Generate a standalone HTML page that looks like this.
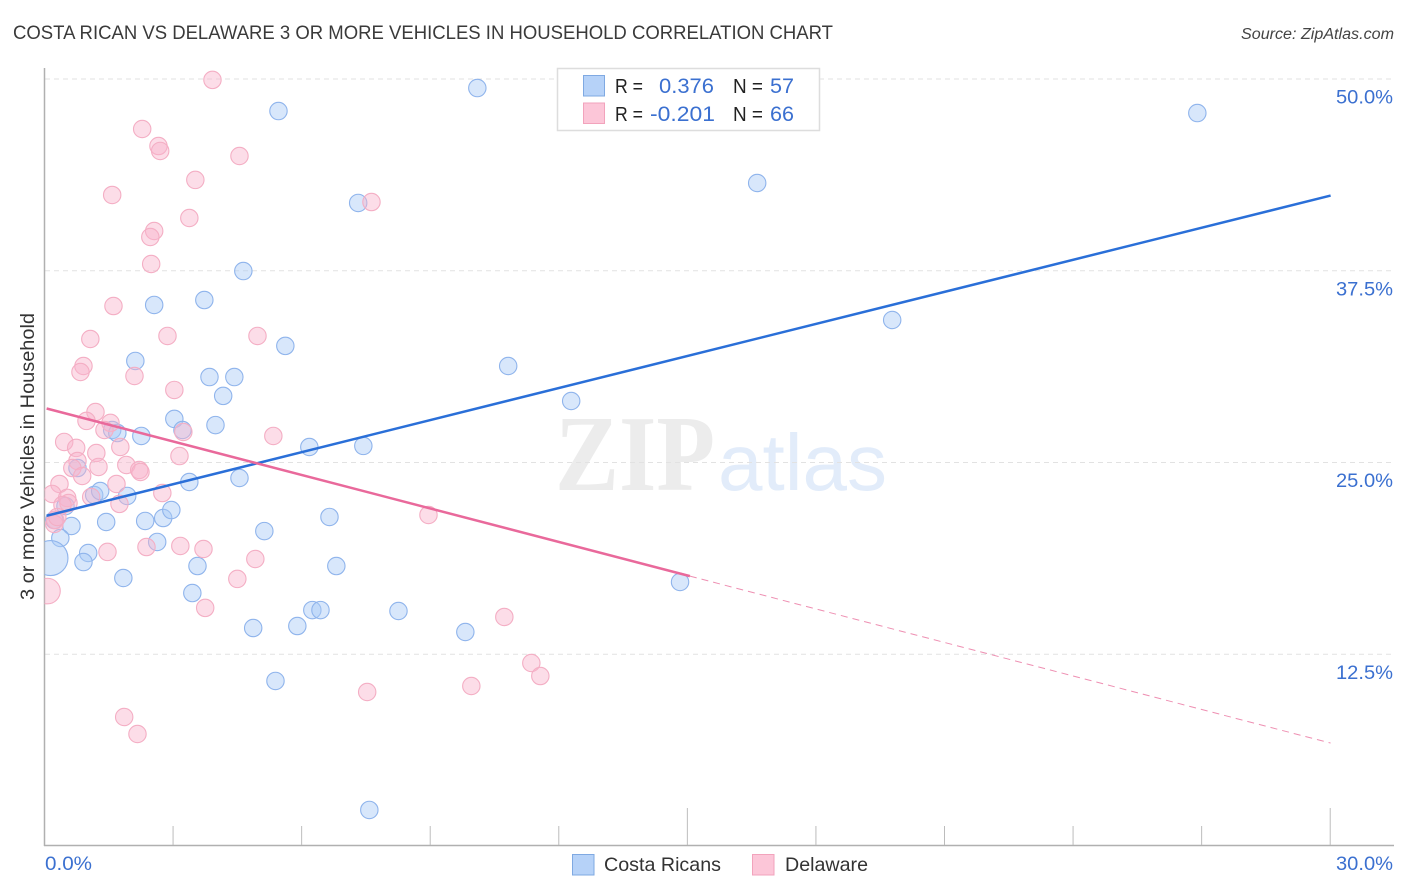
<!DOCTYPE html>
<html lang="en">
<head>
<meta charset="utf-8">
<title>Costa Rican vs Delaware 3 or more Vehicles in Household Correlation Chart</title>
<style>
html,body{margin:0;padding:0;background:#fff;}
svg{display:block;font-family:"Liberation Sans",sans-serif;}
</style>
</head>
<body>
<svg id="chart" xmlns="http://www.w3.org/2000/svg" width="1406" height="892" viewBox="0 0 1406 892">
  <defs>
    <clipPath id="plot-clip"><rect x="44.5" y="60" width="1350" height="786"/></clipPath>
  </defs>
  <rect x="0" y="0" width="1406" height="892" fill="#ffffff"/>
  <text x="13" y="39" font-size="19" fill="#3a3a3a" textLength="820" lengthAdjust="spacingAndGlyphs">COSTA RICAN VS DELAWARE 3 OR MORE VEHICLES IN HOUSEHOLD CORRELATION CHART</text>
  <text x="1241" y="39" font-size="15.5" font-style="italic" fill="#444444" textLength="153" lengthAdjust="spacingAndGlyphs">Source: ZipAtlas.com</text>
  <g>
    <text x="555" y="490" font-family="'Liberation Serif',serif" font-size="108" font-weight="bold" fill="#ececec" textLength="160" lengthAdjust="spacingAndGlyphs">ZIP</text>
    <text x="718" y="490" font-size="80" fill="#e2ecfa" textLength="169" lengthAdjust="spacingAndGlyphs">atlas</text>
  </g>
  <g id="grid"></g>
  <g id="axes"></g>
  <g id="points" clip-path="url(#plot-clip)"></g>
  <g id="trends"></g>
  <text transform="translate(34,600) rotate(-90)" font-size="19" fill="#333333" textLength="287" lengthAdjust="spacingAndGlyphs">3 or more Vehicles in Household</text>

  <g>
    <rect x="557.5" y="68.5" width="262" height="62" fill="#ffffff" stroke="#dddddd" stroke-width="1.5"/>
    <rect x="583.5" y="75.5" width="21" height="20.5" fill="#b6d2f8" stroke="#7fa9e2" stroke-width="1"/>
    <rect x="583.5" y="103" width="21" height="20.5" fill="#fcc6d8" stroke="#f2a3bc" stroke-width="1"/>
    <text x="615" y="93" font-size="20" fill="#222222" textLength="28" lengthAdjust="spacingAndGlyphs">R =</text>
    <text x="659" y="93" font-size="21.5" fill="#3b70d0" textLength="55" lengthAdjust="spacingAndGlyphs">0.376</text>
    <text x="733" y="93" font-size="20" fill="#222222" textLength="30" lengthAdjust="spacingAndGlyphs">N =</text>
    <text x="770" y="93" font-size="21.5" fill="#3b70d0" textLength="24" lengthAdjust="spacingAndGlyphs">57</text>
    <text x="615" y="121" font-size="20" fill="#222222" textLength="28" lengthAdjust="spacingAndGlyphs">R =</text>
    <text x="650" y="121" font-size="21.5" fill="#3b70d0" textLength="65" lengthAdjust="spacingAndGlyphs">-0.201</text>
    <text x="733" y="121" font-size="20" fill="#222222" textLength="30" lengthAdjust="spacingAndGlyphs">N =</text>
    <text x="770" y="121" font-size="21.5" fill="#3b70d0" textLength="24" lengthAdjust="spacingAndGlyphs">66</text>
  </g>

  <g>
    <rect x="572.5" y="854.5" width="21.5" height="20.5" fill="#b6d2f8" stroke="#7fa9e2" stroke-width="1"/>
    <text x="604" y="871" font-size="19.5" fill="#333333" textLength="117" lengthAdjust="spacingAndGlyphs">Costa Ricans</text>
    <rect x="752.5" y="854.5" width="21.5" height="20.5" fill="#fcc6d8" stroke="#f2a3bc" stroke-width="1"/>
    <text x="785" y="871" font-size="19.5" fill="#333333" textLength="83" lengthAdjust="spacingAndGlyphs">Delaware</text>
  </g>
</svg>
<script>
const blueX = [5.45,10.09,26.89,16.62,7.31,4.63,3.72,2.55,5.61,19.77,2.11,3.84,4.42,10.81,4.16,12.28,3.02,3.98,1.57,1.69,2.25,3.21,6.17,7.43,4.54,3.37,0.76,1.15,1.29,1.92,0.48,0.22,0.62,0.36,1.43,2.34,2.76,2.95,6.64,5.12,2.62,1.01,0.90,0.13,3.56,6.80,1.83,14.82,3.44,6.24,6.43,8.25,4.86,5.89,9.81,5.38,7.57];
const blueY = [47.91,49.41,47.78,43.22,41.92,37.48,35.59,35.27,32.60,34.29,31.62,30.57,30.57,31.29,29.34,29.01,27.84,27.44,27.12,26.92,26.73,27.12,26.01,26.08,23.99,23.73,24.64,22.88,23.14,22.82,22.16,21.25,20.86,20.08,21.12,21.19,21.38,21.90,21.45,20.53,19.82,19.10,18.51,18.77,18.25,18.25,17.47,17.21,16.49,15.38,15.38,15.32,14.21,14.34,13.95,10.76,2.35];
const pinkX = [3.91,2.27,2.65,2.69,4.54,3.51,1.57,7.62,3.37,2.55,2.46,2.48,1.60,4.96,2.86,1.06,0.90,0.83,2.09,3.02,1.18,0.97,1.53,1.39,3.23,5.33,0.45,0.73,1.76,1.20,3.14,0.76,0.64,1.90,1.25,2.20,2.23,0.87,0.34,1.67,0.17,2.74,1.08,0.52,0.55,0.41,1.74,8.95,0.24,0.22,0.29,1.46,2.37,3.16,3.70,4.91,4.49,0.06,3.74,10.72,11.35,11.56,9.95,7.52,1.85,2.16];
const pinkY = [49.94,46.74,45.63,45.31,44.98,43.42,42.44,41.98,40.94,40.09,39.70,37.94,35.20,33.25,33.25,33.05,31.29,30.90,30.64,29.73,28.29,27.71,27.58,27.12,26.99,26.73,26.34,25.95,26.01,25.62,25.42,25.10,24.64,24.84,24.71,24.51,24.38,24.12,23.60,23.60,22.95,23.01,22.75,22.69,22.36,22.23,22.30,21.58,21.25,20.99,21.45,19.17,19.49,19.56,19.36,18.71,17.41,16.62,15.52,14.93,11.93,11.08,10.43,10.04,8.41,7.30];
const blueLargeIndex = 43;
const pinkLargeIndex = 57;
const blueTrend = [21.5, 42.4];
const pinkTrend = [28.55, 6.71];
const trendDomain = [0, 30];
const pinkSolidEnd = 15.05;
const yTickValues = [12.5, 25, 37.5, 50];
const yTickLabels = ['12.5%', '25.0%', '37.5%', '50.0%'];
const xTickValues = [3, 6, 9, 12, 15, 18, 21, 24, 27, 30];
const xMajorTicks = [15, 30];
const xEndLabels = ['0.0%', '30.0%'];

const NS = 'http://www.w3.org/2000/svg';
function xScale(v) { return 44.9 + v * 42.857; }
function yScale(v) { return 846 - v * 15.34; }
function lineAt(domainX, trend) {
  const t = (domainX - trendDomain[0]) / (trendDomain[1] - trendDomain[0]);
  return trend[0] + (trend[1] - trend[0]) * t;
}
function make(tag, attrs, parent) {
  const el = document.createElementNS(NS, tag);
  for (const k in attrs) el.setAttribute(k, attrs[k]);
  parent.appendChild(el);
  return el;
}

const gridG = document.getElementById('grid');
const axesG = document.getElementById('axes');
const pointsG = document.getElementById('points');
const trendsG = document.getElementById('trends');

yTickValues.forEach(function (v, i) {
  const line = make('line', {x1: 45, x2: 1394, y1: yScale(v), y2: yScale(v), stroke: '#e2e2e2', 'stroke-width': 1, 'stroke-dasharray': '5 4'}, gridG);
  
  
  const label = make('text', {x: 1336, y: yScale(v) + 24.5, 'font-size': 19.5, fill: '#3b70d0', textLength: 57, lengthAdjust: 'spacingAndGlyphs'}, axesG);
  label.textContent = yTickLabels[i];
  
  
});

const yAxis = make('line', {x1: 44.5, x2: 44.5, y1: 68, y2: 846, stroke: '#b0b0b0', 'stroke-width': 1.5}, axesG);


const xAxis = make('line', {x1: 44, x2: 1394, y1: 845.5, y2: 845.5, stroke: '#b0b0b0', 'stroke-width': 1.5}, axesG);



xTickValues.forEach(function (v) {
  const top = xMajorTicks.indexOf(v) >= 0 ? 808 : 826;
  const tick = make('line', {x1: xScale(v) - 0.4, x2: xScale(v) - 0.4, y1: top, y2: 845, stroke: '#bcbcbc', 'stroke-width': 1}, axesG);
  
  
});

const xLabelLeft = make('text', {x: 45, y: 870, 'font-size': 19.5, fill: '#3b70d0', textLength: 47, lengthAdjust: 'spacingAndGlyphs'}, axesG);
xLabelLeft.textContent = xEndLabels[0];


const xLabelRight = make('text', {x: 1336, y: 870, 'font-size': 19.5, fill: '#3b70d0', textLength: 57, lengthAdjust: 'spacingAndGlyphs'}, axesG);
xLabelRight.textContent = xEndLabels[1];



blueX.forEach(function (v, i) {
  const r = i === blueLargeIndex ? 17.5 : 8.7;
  const c = make('circle', {cx: xScale(v), cy: yScale(blueY[i]), r: r, fill: 'rgba(168,202,246,0.45)', stroke: '#8fb4ec', 'stroke-width': 1.1}, pointsG);
  
  
});
pinkX.forEach(function (v, i) {
  const r = i === pinkLargeIndex ? 12.8 : 8.7;
  const c = make('circle', {cx: xScale(v), cy: yScale(pinkY[i]), r: r, fill: 'rgba(249,180,204,0.45)', stroke: '#f4aec4', 'stroke-width': 1.1}, pointsG);
  
  
});

const blueLine = make('line', {x1: xScale(0.04), y1: yScale(lineAt(0.04, blueTrend)), x2: xScale(trendDomain[1]), y2: yScale(lineAt(trendDomain[1], blueTrend)), stroke: '#2a6fd8', 'stroke-width': 2.5}, trendsG);


const pinkLine = make('line', {x1: xScale(0.04), y1: yScale(lineAt(0.04, pinkTrend)), x2: xScale(pinkSolidEnd), y2: yScale(lineAt(pinkSolidEnd, pinkTrend)), stroke: '#e9699b', 'stroke-width': 2.5}, trendsG);


const pinkDash = make('line', {x1: xScale(pinkSolidEnd), y1: yScale(lineAt(pinkSolidEnd, pinkTrend)), x2: xScale(trendDomain[1]), y2: yScale(lineAt(trendDomain[1], pinkTrend)), stroke: '#ee8fb2', 'stroke-width': 1, 'stroke-dasharray': '7 5'}, trendsG);


</script>
</body>
</html>
